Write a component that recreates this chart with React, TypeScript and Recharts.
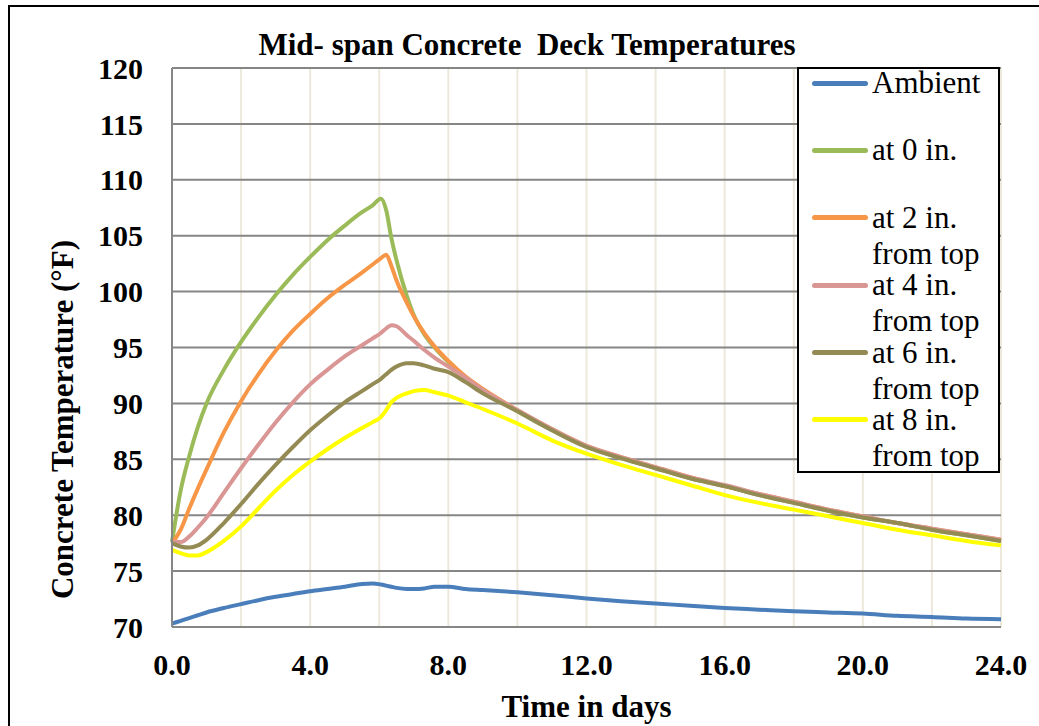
import React from 'react';
import { LineChart, Line, XAxis, YAxis, CartesianGrid, Legend } from 'recharts';

// time in days
const days = [0, 0.25, 0.5, 0.75, 1, 1.5, 2, 2.5, 3, 3.5, 4, 4.5, 5, 5.5, 5.8, 6.05, 6.2, 6.35, 6.5, 6.8, 7, 7.3, 7.6, 8, 8.5, 9, 10, 11, 12, 13, 14, 15, 16, 17, 18, 19, 20, 21, 22, 23, 24];

const ambient = [70.3, 70.55, 70.8, 71.05, 71.3, 71.7, 72.05, 72.4, 72.7, 72.95, 73.2, 73.4, 73.6, 73.85, 73.9, 73.8, 73.7, 73.6, 73.5, 73.4, 73.4, 73.45, 73.6, 73.6, 73.4, 73.3, 73.1, 72.85, 72.55, 72.3, 72.1, 71.9, 71.7, 71.55, 71.4, 71.3, 71.2, 71.0, 70.9, 70.75, 70.7];
const at0 = [77.6, 82.2, 85.3, 87.9, 90.0, 93.0, 95.5, 97.7, 99.7, 101.5, 103.1, 104.6, 105.9, 107.1, 107.7, 108.3, 107.3, 104.8, 102.8, 99.6, 97.9, 96.2, 95.0, 93.7, 92.3, 91.2, 89.3, 87.6, 86.1, 85.1, 84.2, 83.3, 82.6, 81.8, 81.1, 80.4, 79.8, 79.3, 78.7, 78.2, 77.7];
const at2 = [77.5, 78.7, 80.6, 82.4, 84.1, 87.4, 90.2, 92.6, 94.7, 96.5, 98.0, 99.4, 100.6, 101.7, 102.4, 103.0, 103.3, 102.3, 101.0, 99.0, 97.8, 96.3, 95.1, 93.8, 92.4, 91.3, 89.4, 87.7, 86.2, 85.2, 84.3, 83.4, 82.6, 81.9, 81.2, 80.5, 79.9, 79.3, 78.8, 78.3, 77.8];
const at4 = [77.6, 77.6, 78.1, 78.9, 79.8, 82.0, 84.2, 86.3, 88.3, 90.1, 91.7, 93.0, 94.2, 95.2, 95.8, 96.3, 96.7, 97.0, 96.9, 96.1, 95.6, 94.8, 94.1, 93.3, 92.3, 91.2, 89.4, 87.7, 86.2, 85.2, 84.3, 83.4, 82.7, 81.9, 81.2, 80.5, 79.9, 79.3, 78.8, 78.3, 77.8];
const at6 = [77.5, 77.2, 77.1, 77.3, 77.8, 79.3, 81.0, 82.8, 84.5, 86.1, 87.6, 88.9, 90.1, 91.1, 91.7, 92.2, 92.6, 93.0, 93.3, 93.6, 93.6, 93.4, 93.1, 92.8, 91.9, 90.9, 89.3, 87.6, 86.1, 85.1, 84.2, 83.3, 82.6, 81.8, 81.1, 80.4, 79.8, 79.3, 78.7, 78.2, 77.7];
const at8 = [76.9, 76.6, 76.4, 76.4, 76.7, 77.7, 79.0, 80.6, 82.2, 83.6, 84.8, 85.9, 86.9, 87.8, 88.3, 88.8, 89.4, 90.1, 90.5, 90.9, 91.1, 91.2, 91.0, 90.7, 90.1, 89.5, 88.2, 86.7, 85.5, 84.5, 83.6, 82.7, 81.8, 81.1, 80.5, 79.9, 79.3, 78.7, 78.2, 77.7, 77.3];

const xTicks = [0, 2, 4, 6, 8, 10, 12, 14, 16, 18, 20, 22, 24];
const yTicks = [70, 75, 80, 85, 90, 95, 100, 105, 110, 115, 120];

const series = [
  { key: 'ambient', name: 'Ambient', color: '#4A7EBB' },
  { key: 'at0', name: 'at 0 in.', color: '#9BBB59' },
  { key: 'at2', name: 'at 2 in. from top', color: '#F79646' },
  { key: 'at4', name: 'at 4 in. from top', color: '#D99694' },
  { key: 'at6', name: 'at 6 in. from top', color: '#948A54' },
  { key: 'at8', name: 'at 8 in. from top', color: '#FFFF00' },
];

const data = days.map((t, i) => ({
  t,
  ambient: ambient[i],
  at0: at0[i],
  at2: at2[i],
  at4: at4[i],
  at6: at6[i],
  at8: at8[i],
}));

const FONT = '"Liberation Serif", "Times New Roman", serif';

const LegendBox = (props: any) => {
  const payload = props.payload || [];
  return (
    <div
      style={{
        width: 203,
        height: 406,
        boxSizing: 'border-box',
        border: '2px solid #000',
        background: '#fff',
        fontFamily: FONT,
        fontSize: 31,
        color: '#000',
      }}
    >
      <div style={{ marginTop: -4 }}>
        {payload.map((entry: any, i: number) => (
          <div key={i} style={{ display: 'flex', height: 67.4, alignItems: 'flex-start' }}>
            <span
              style={{
                display: 'inline-block',
                width: 56,
                height: 5,
                borderRadius: 3,
                background: entry.color,
                marginLeft: 13,
                marginTop: 15.5,
                marginRight: 4,
                flexShrink: 0,
              }}
            />
            <span style={{ lineHeight: '36px', width: 125, display: 'inline-block' }}>{entry.value}</span>
          </div>
        ))}
      </div>
    </div>
  );
};

export default function App() {
  return (
    <div
      style={{
        position: 'relative',
        width: 1039,
        height: 726,
        overflow: 'hidden',
        fontFamily: FONT,
        background: '#fff',
      }}
    >
      <style>{'body { margin: 0; }'}</style>
      {/* outer chart frame */}
      <div
        style={{
          position: 'absolute',
          left: 8,
          top: 5,
          width: 1100,
          height: 800,
          borderTop: '2px solid #000',
          borderLeft: '2px solid #000',
        }}
      />
      <div
        style={{
          position: 'absolute',
          left: 10,
          top: 29,
          width: 1034,
          textAlign: 'center',
          fontSize: 31,
          lineHeight: '31px',
          fontWeight: 'bold',
          whiteSpace: 'pre',
          zIndex: 2,
        }}
      >
        Mid- span Concrete  Deck Temperatures
      </div>
      <div
        style={{
          position: 'absolute',
          left: 62 - 250,
          top: 419 - 15.5,
          width: 500,
          textAlign: 'center',
          fontSize: 31,
          lineHeight: '31px',
          fontWeight: 'bold',
          transform: 'rotate(-90deg)',
          zIndex: 2,
        }}
      >
        Concrete Temperature (°F)
      </div>
      <div style={{ position: 'absolute', left: 10, top: 7 }}>
        <LineChart
          width={1029}
          height={719}
          data={data}
          margin={{ top: 61, right: 38, left: 0, bottom: 0 }}
          style={{ fontFamily: FONT }}
        >
          <CartesianGrid horizontal={false} stroke="#ECE9DC" strokeWidth={2} />
          <CartesianGrid vertical={false} stroke="#868686" strokeWidth={2} />
          <XAxis
            dataKey="t"
            type="number"
            domain={[0, 24]}
            ticks={xTicks}
            interval={0}
            tickFormatter={(v: number) => (v % 4 === 0 ? v.toFixed(1) : '')}
            tickLine={false}
            tickSize={0}
            tickMargin={27}
            height={99}
            axisLine={{ stroke: '#868686', strokeWidth: 2 }}
            tick={{ fontSize: 30, fontWeight: 'bold', fill: '#000', fontFamily: FONT }}
            label={{
              value: 'Time in days',
              position: 'insideBottom',
              offset: 9,
              style: { fontSize: 31, fontWeight: 'bold', fill: '#000', fontFamily: FONT },
            }}
          />
          <XAxis
            xAxisId="top"
            orientation="top"
            type="number"
            domain={[0, 24]}
            height={0}
            tick={false}
            tickLine={false}
            axisLine={{ stroke: '#000', strokeWidth: 2 }}
          />
          <YAxis
            type="number"
            domain={[70, 120]}
            ticks={yTicks}
            interval={0}
            width={162}
            tickLine={false}
            tickSize={0}
            tickMargin={29}
            axisLine={{ stroke: '#868686', strokeWidth: 2 }}
            tick={{ fontSize: 30, fontWeight: 'bold', fill: '#000', fontFamily: FONT }}
          />
          <YAxis
            yAxisId="right"
            orientation="right"
            type="number"
            domain={[70, 120]}
            width={0}
            tick={false}
            tickLine={false}
            axisLine={{ stroke: '#000', strokeWidth: 2 }}
          />
          <Legend
            layout="horizontal"
            verticalAlign="middle"
            align="center"
            content={<LegendBox />}
            wrapperStyle={{ position: 'absolute', left: 787, top: 60, width: 203, height: 406 }}
          />
          {series.map((s) => (
            <Line
              key={s.key}
              type="monotone"
              dataKey={s.key}
              name={s.name}
              stroke={s.color}
              strokeWidth={4}
              dot={false}
              activeDot={false}
              isAnimationActive={false}
            />
          ))}
        </LineChart>
      </div>
    </div>
  );
}
